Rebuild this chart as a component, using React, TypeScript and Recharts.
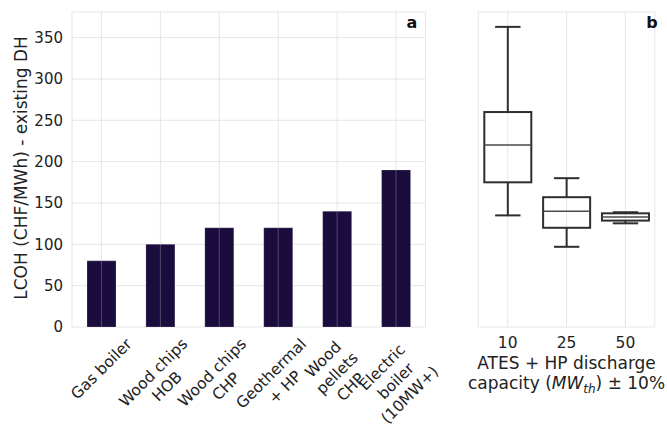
import { Bar, BarChart, CartesianGrid, XAxis, YAxis } from 'recharts';

const sources = ['Gas boiler', 'Wood chips\nHOB', 'Wood chips\nCHP', 'Geothermal\n+ HP', 'Wood\npellets\nCHP', 'Electric\nboiler\n(10MW+)'];
const lcoh = [80, 100, 120, 120, 140, 190];

const capacities = ['10', '25', '50'];
const boxMin = [135, 97, 125.4];
const boxQ1 = [175, 120, 128.7];
const boxMedian = [220, 140, 133];
const boxQ3 = [260, 157, 137.5];
const boxMax = [363, 180, 138.8];

const yTicks = [0, 50, 100, 150, 200, 250, 300, 350];
const yMax = 381;

const FONT = "'DejaVu Sans', sans-serif";
const TEXT = '#222222';
const GRID = '#b8b8b8';

const barData = sources.map((s, i) => ({ source: s, lcoh: lcoh[i] }));
const boxData = capacities.map((c, i) => ({
    cap: c,
    min: boxMin[i],
    q1: boxQ1[i],
    median: boxMedian[i],
    q3: boxQ3[i],
    max: boxMax[i],
}));

let ctx: CanvasRenderingContext2D | null = null;
function textWidth(s: string, size: number) {
    if (!ctx) ctx = document.createElement('canvas').getContext('2d');
    if (!ctx) return s.length * size * 0.55;
    ctx.font = `${size}px 'DejaVu Sans'`;
    return ctx.measureText(s).width;
}

// rotated multi-line label, bbox centred under the tick like matplotlib ha='center'
function SourceTick(props: any) {
    const { x, y, payload } = props;
    const lines: string[] = String(payload.value).split('\n');
    const size = 15.5;
    const lh = 19.5;
    const w = Math.max(...lines.map((l) => textWidth(l, size)));
    const h = size * 1.16 + (lines.length - 1) * lh;
    const cy = y - 2 + (w + h) / (2 * Math.SQRT2);
    return (
        <g transform={`translate(${x},${cy}) rotate(-45)`}>
            {lines.map((l, i) => (
                <text
                    key={i}
                    x={0}
                    y={(i - (lines.length - 1) / 2) * lh}
                    textAnchor="middle"
                    dominantBaseline="central"
                    fontSize={size}
                    fontFamily={FONT}
                    fill={TEXT}
                >
                    {l}
                </text>
            ))}
        </g>
    );
}

function BoxShape(props: any) {
    const { x, y, width, height, payload } = props;
    const top = Math.min(y, y + height);
    const h = Math.abs(height);
    const span = payload.max - payload.min;
    const py = (v: number) => top + ((payload.max - v) / span) * h;
    const cx = x + width / 2;
    const cap = width * 0.27;
    const stroke = '#2e2e2e';
    return (
        <g stroke={stroke} strokeWidth={2} fill="none">
            <line x1={cx} x2={cx} y1={py(payload.max)} y2={py(payload.q3)} />
            <line x1={cx} x2={cx} y1={py(payload.q1)} y2={py(payload.min)} />
            <line x1={cx - cap} x2={cx + cap} y1={py(payload.max)} y2={py(payload.max)} />
            <line x1={cx - cap} x2={cx + cap} y1={py(payload.min)} y2={py(payload.min)} />
            <rect x={x} y={py(payload.q3)} width={width} height={py(payload.q1) - py(payload.q3)} />
            <line x1={x} x2={x + width} y1={py(payload.median)} y2={py(payload.median)} strokeWidth={1.5} stroke="#4a4a4a" />
        </g>
    );
}

function YLabel() {
    return (
        <text transform="translate(26.5,168) rotate(-90)" textAnchor="middle" fontSize={17} fontFamily={FONT} fill={TEXT}>
            LCOH (CHF/MWh) - existing DH
        </text>
    );
}

function CapLabel(props: any) {
    const vb = props.viewBox || { x: 38.3, width: 176.5 };
    const cx = vb.x + vb.width / 2;
    return (
        <g fontSize={17} fontFamily={FONT} fill={TEXT}>
            <text x={cx} y={369} textAnchor="middle">ATES + HP discharge</text>
            <text x={cx} y={389} textAnchor="middle">
                capacity (<tspan fontStyle="italic">MW</tspan>
                <tspan fontStyle="italic" fontSize={12} dy={4}>th</tspan>
                <tspan dy={-4}>) ± 10%</tspan>
            </text>
        </g>
    );
}

const letter = (left: number): React.CSSProperties => ({
    position: 'absolute',
    left,
    top: 14.5,
    width: 20,
    textAlign: 'center',
    fontFamily: FONT,
    fontWeight: 'bold',
    fontSize: 16,
    lineHeight: '16px',
    color: '#111',
});

export default function App() {
    return (
        <div style={{ position: 'absolute', left: 0, top: 0, width: 667, height: 424, background: '#fff', overflow: 'hidden' }}>
            <div style={{ position: 'absolute', left: 0, top: 0 }}>
                <BarChart width={460} height={424} data={barData} margin={{ top: 12, right: 34.5, bottom: 0, left: 0 }}>
                    <CartesianGrid vertical={false} stroke={GRID} strokeOpacity={0.35} />
                    <XAxis
                        dataKey="source"
                        height={97}
                        interval={0}
                        tickLine={false}
                        axisLine={false}
                        tickSize={6}
                        tickMargin={4}
                        tick={<SourceTick />}
                    />
                    <YAxis
                        width={72}
                        domain={[0, yMax]}
                        ticks={yTicks}
                        tickLine={false}
                        axisLine={false}
                        tickSize={6}
                        tickMargin={3}
                        tick={{ fontSize: 15, fill: TEXT, fontFamily: FONT }}
                        label={<YLabel />}
                    />
                    <Bar dataKey="lcoh" fill="#1a0c3c" stroke="#ffffff" strokeOpacity={0.2} barSize={29} isAnimationActive={false} />
                    <CartesianGrid horizontal={false} stroke={GRID} strokeOpacity={0.35} zIndex={1000} />
                </BarChart>
            </div>
            <div style={{ position: 'absolute', left: 440, top: 0 }}>
                <BarChart width={227} height={424} data={boxData} margin={{ top: 12, right: 12.2, bottom: 0, left: 38.3 }}>
                    <CartesianGrid stroke={GRID} strokeOpacity={0.35} />
                    <XAxis
                        dataKey="cap"
                        height={97}
                        tickLine={false}
                        axisLine={false}
                        tickSize={6}
                        tickMargin={4}
                        tick={{ fontSize: 15.5, fill: TEXT, fontFamily: FONT }}
                        label={<CapLabel />}
                    />
                    <YAxis width={0} domain={[0, yMax]} ticks={yTicks} tick={false} tickLine={false} axisLine={false} />
                    <Bar dataKey={(d: any) => [d.min, d.max]} barSize={47} shape={<BoxShape />} isAnimationActive={false} />
                </BarChart>
            </div>
            <div style={letter(402)}>a</div>
            <div style={letter(642)}>b</div>
        </div>
    );
}
